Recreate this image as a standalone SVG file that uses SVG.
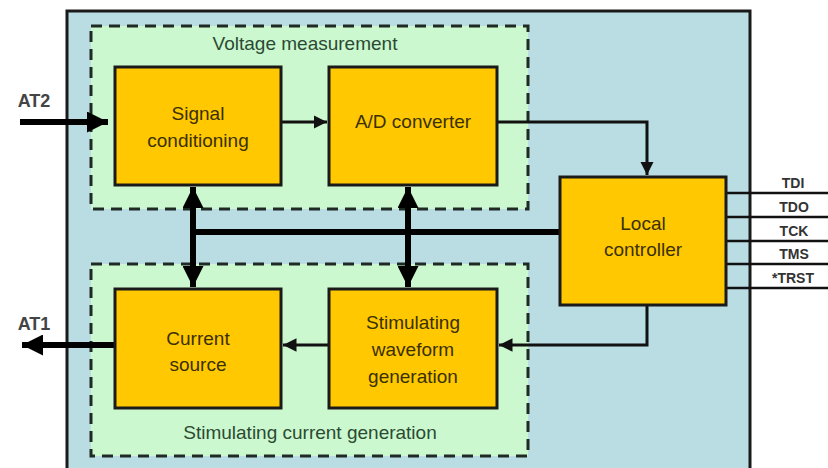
<svg xmlns="http://www.w3.org/2000/svg" width="828" height="468" viewBox="0 0 828 468">
<defs>
<style>
.node rect{fill:#ffc800;stroke:#1a1a1a;stroke-width:3}
.node text{font-family:"Liberation Sans",Arial,sans-serif;font-size:19px;fill:#3b3000;text-anchor:middle}
.grp{fill:#ccf8cf;stroke:#1f2a24;stroke-width:3;stroke-dasharray:11 7}
.glabel{font-family:"Liberation Sans",Arial,sans-serif;font-size:19px;fill:#2b4a33;text-anchor:middle}
.pin{font-family:"Liberation Sans",Arial,sans-serif;font-size:14px;font-weight:bold;fill:#333;text-anchor:middle}
.io{font-family:"Liberation Sans",Arial,sans-serif;font-size:18px;font-weight:bold;fill:#444;text-anchor:middle}
.thin{stroke:#111;stroke-width:3;fill:none}
.thick{stroke:#000;stroke-width:6;fill:none}
.jtag{stroke:#111;stroke-width:2.5;fill:none}
</style>
<marker id="ah" viewBox="0 0 10 10" refX="10" refY="5" markerWidth="4.5" markerHeight="4.5" orient="auto-start-reverse" markerUnits="strokeWidth"><path d="M0,0 L10,5 L0,10 z" fill="#111"/></marker>
<marker id="ahb" viewBox="0 0 10 10" refX="10" refY="5" markerWidth="3.5" markerHeight="3.5" orient="auto-start-reverse" markerUnits="strokeWidth"><path d="M0,0 L10,5 L0,10 z" fill="#000"/></marker>
</defs>
<rect x="0" y="0" width="828" height="468" fill="#ffffff"/>
<rect x="67" y="11" width="683" height="470" fill="#b9dde3" stroke="#1a1a1a" stroke-width="3"/>

<g id="voltage-measurement">
<rect class="grp" x="91" y="26" width="437" height="183"/>
<text class="glabel" x="305" y="50">Voltage measurement</text>
</g>
<g id="stimulating-current-generation">
<rect class="grp" x="91" y="264" width="437" height="192"/>
<text class="glabel" x="310" y="439">Stimulating current generation</text>
</g>

<g id="connectors">
<path class="thick" d="M20,122 H108" marker-end="url(#ahb)"/>
<path class="thin" d="M281,122 H327" marker-end="url(#ah)"/>
<path class="thin" d="M497,122 H647 V175" marker-end="url(#ah)"/>
<path class="thin" d="M647,305 V345 H499" marker-end="url(#ah)"/>
<path class="thin" d="M329,345 H283" marker-end="url(#ah)"/>
<path class="thick" d="M115,345 H22" marker-end="url(#ahb)"/>
<path class="thick" d="M193,232 H560"/>
<path class="thick" d="M193,187 V287" marker-start="url(#ahb)" marker-end="url(#ahb)"/>
<path class="thick" d="M408,187 V287" marker-start="url(#ahb)" marker-end="url(#ahb)"/>
<path class="jtag" d="M726,193 H828 M726,217 H828 M726,241 H828 M726,264 H828 M726,288 H828"/>
<text class="io" x="34" y="107">AT2</text>
<text class="io" x="34" y="330">AT1</text>
<text class="pin" x="793" y="188">TDI</text>
<text class="pin" x="794" y="212">TDO</text>
<text class="pin" x="794" y="236">TCK</text>
<text class="pin" x="794" y="259">TMS</text>
<text class="pin" x="793" y="283">*TRST</text>
</g>

<g id="signal-conditioning" class="node">
<rect x="115" y="67" width="166" height="118"/>
<text x="198" y="120">Signal</text>
<text x="198" y="147">conditioning</text>
</g>
<g id="ad-converter" class="node">
<rect x="329" y="67" width="168" height="118"/>
<text x="413" y="128">A/D converter</text>
</g>
<g id="local-controller" class="node">
<rect x="560" y="177" width="166" height="128"/>
<text x="643" y="230">Local</text>
<text x="643" y="256">controller</text>
</g>
<g id="current-source" class="node">
<rect x="115" y="289" width="166" height="119"/>
<text x="198" y="345">Current</text>
<text x="198" y="371">source</text>
</g>
<g id="stimulating-waveform-generation" class="node">
<rect x="329" y="289" width="168" height="119"/>
<text x="413" y="329">Stimulating</text>
<text x="413" y="356">waveform</text>
<text x="413" y="383">generation</text>
</g>
</svg>
